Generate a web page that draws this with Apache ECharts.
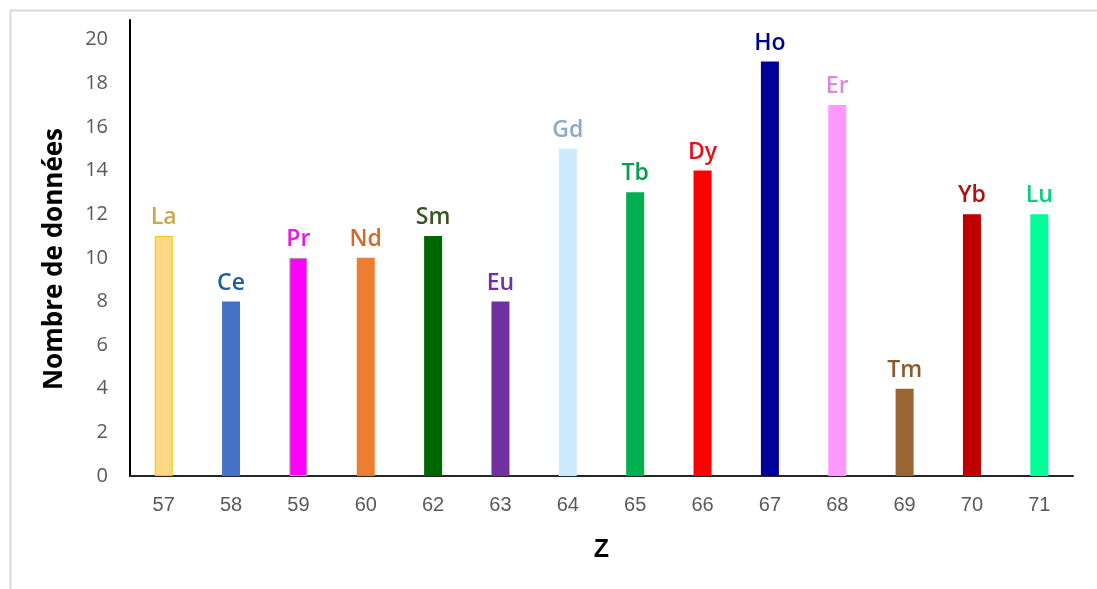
<!DOCTYPE html>
<html>
<head>
<meta charset="utf-8">
<script src="https://cdn.jsdelivr.net/npm/echarts@6/dist/echarts.min.js"></script>
<style>
  html, body { margin: 0; padding: 0; background: #fff; }
  #chart { width: 1097px; height: 589px; }
</style>
</head>
<body>
<div id="chart"></div>
<script>
// Atomic numbers of the lanthanides on the x axis
const zValues = ['57', '58', '59', '60', '62', '63', '64', '65', '66', '67', '68', '69', '70', '71'];
// Element symbols written above each bar
const symbols = ['La', 'Ce', 'Pr', 'Nd', 'Sm', 'Eu', 'Gd', 'Tb', 'Dy', 'Ho', 'Er', 'Tm', 'Yb', 'Lu'];
// Number of data points per element
const counts = [11, 8, 10, 10, 11, 8, 15, 13, 14, 19, 17, 4, 12, 12];
// Bar fill colours per element
const barColors = ['#ffd886', '#4472c4', '#ff00ff', '#ed7d31', '#006600', '#7030a0', '#cce9fd',
                   '#00b050', '#ff0000', '#000099', '#ff99ff', '#996633', '#c00000', '#00ff99'];
// Bar outline colours (only a few bars have a visible outline)
const barBorders = ['#ffc000', null, '#a6a6a6', null, null, null, null,
                    null, null, null, null, null, null, null];
// Symbol label colours
const labelColors = ['#c9a94f', '#1f5fa0', '#e619e6', '#d46a2a', '#375623', '#7030a0', '#8ea9c8',
                     '#00a050', '#e0141e', '#00008b', '#d98ad9', '#8b5a2b', '#b01010', '#00d27a'];

const chart = echarts.init(document.getElementById('chart'));

const data = counts.map((v, i) => ({
  value: v,
  itemStyle: {
    color: barColors[i],
    borderColor: barBorders[i] || barColors[i],
    borderWidth: barBorders[i] ? 1 : 0
  },
  label: {
    show: true,
    position: 'top',
    distance: 7,
    formatter: symbols[i],
    color: labelColors[i],
    fontFamily: 'Open Sans',
    fontWeight: 600,
    fontSize: 23
  }
}));

chart.setOption({
  animation: false,
  backgroundColor: '#ffffff',
  graphic: [{
    type: 'rect',
    shape: { x: 10.5, y: 10.5, width: 1100, height: 600 },
    style: { fill: 'none', stroke: '#d9d9d9', lineWidth: 2 },
    silent: true,
    z: -1
  }],
  grid: { left: 130, right: 24, top: 20, bottom: 113, containLabel: false },
  xAxis: {
    type: 'category',
    data: zValues,
    name: 'Z',
    nameLocation: 'middle',
    nameGap: 62,
    nameTextStyle: { fontFamily: 'Liberation Sans', fontWeight: 'bold', fontSize: 25, color: '#000' },
    axisLine: { lineStyle: { color: '#262626', width: 2 } },
    axisTick: { show: false },
    axisLabel: { fontFamily: 'Liberation Sans', fontSize: 20, color: '#595959', margin: 19 }
  },
  yAxis: {
    type: 'value',
    min: 0,
    max: 20.9,
    interval: 2,
    name: 'Nombre de données',
    nameLocation: 'middle',
    nameGap: 62,
    nameRotate: 90,
    nameTextStyle: {
      fontFamily: 'Open Sans', fontWeight: 'bold', fontSize: 26, color: '#000',
      padding: [0, 22, 0, 0]
    },
    axisLine: { show: true, lineStyle: { color: '#000', width: 2 } },
    axisTick: { show: false },
    splitLine: { show: false },
    axisLabel: {
      fontFamily: 'Open Sans',
      fontSize: 20,
      color: '#595959',
      margin: 22,
      formatter: v => (v % 2 === 0 ? String(v) : '')
    }
  },
  series: [{
    type: 'bar',
    data: data,
    barWidth: 18
  }]
});
</script>
</body>
</html>
